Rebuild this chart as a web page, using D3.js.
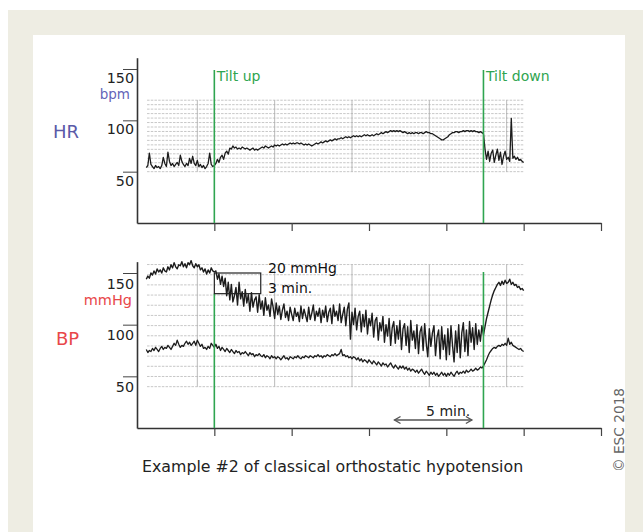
<!DOCTYPE html>
<html><head><meta charset="utf-8">
<script src="https://cdn.jsdelivr.net/npm/d3@7"></script>
<style>
html,body{margin:0;padding:0;background:#fff;}
svg{display:block;font-family:"DejaVu Sans",Verdana,sans-serif;}
</style></head>
<body>
<svg id="c" width="643" height="532"></svg>
<script>
// ---- data ----
const tStart = 0.6, tStep = 0.1; // minutes
const hrValues = [
54,56,68,57,55,53,56,54,55,53,
56,64,58,55,69,60,56,58,55,57,
59,56,66,60,57,55,58,56,63,58,
65,58,56,61,55,57,54,56,53,55,
58,68,57,55,56,
58,62,59,64,66,62,68,70,67,73,
72,75,73,74,72,73,72,74,73,72,
73,72,71,72,73,71,72,71,72,73,
74,73,75,74,73,74,75,74,76,75,
76,75,76,77,76,77,76,77,78,77,
78,77,78,78,77,78,77,76,77,76,
77,76,75,76,77,78,77,78,79,78,
79,80,79,80,81,80,81,82,81,82,
82,83,82,83,84,83,84,83,84,85,
84,85,84,85,84,85,86,85,86,85,
85,86,85,86,87,86,87,88,87,88,
89,88,89,90,89,90,89,90,89,90,
89,88,89,88,87,88,87,88,87,88,
88,87,88,88,87,88,89,88,88,87,
87,86,85,84,83,82,81,81,82,83,
84,86,87,88,88,89,89,88,89,89,
90,89,90,90,89,90,89,90,89,89,
88,89,88,87,
72,62,70,60,68,71,59,66,72,61,
69,57,65,70,62,64,60,102,63,65,
62,64,61,62,60,59
];
const sysValues = [
144,147,145,150,148,152,149,154,151,153,
150,155,152,151,156,153,158,155,160,156,
154,158,157,161,156,159,155,160,158,162,
157,155,159,156,158,153,155,151,154,149,
153,150,155,152,151,
152,144,149,139,147,137,145,128,141,124,
139,122,128,136,119,141,125,132,118,134,
121,129,113,131,117,124,127,112,129,115,
123,109,126,114,119,108,125,117,106,121,
110,118,105,114,120,107,113,104,117,110,
104,116,108,112,103,118,106,115,109,103,
117,105,111,119,104,113,108,116,102,114,
107,118,103,112,116,101,119,108,113,104,
120,102,110,117,99,115,121,86,112,100,
116,95,108,113,93,110,98,114,91,106,
99,111,88,104,107,85,102,94,108,83,
100,89,106,80,97,103,82,99,86,104,
76,96,101,80,98,73,104,85,94,77,
100,72,93,98,75,101,82,69,96,79,
92,99,70,88,95,67,98,76,90,66,
96,71,99,80,64,94,73,100,68,92,
102,74,95,70,103,83,97,76,101,81,
95,84,99,90,
98,106,112,118,124,129,133,136,139,141,
138,142,139,143,140,141,144,139,141,138,
139,136,137,134,135,133
];
const diaValues = [
76,73,75,74,77,75,78,76,74,77,
79,76,78,77,80,78,76,79,82,80,
85,81,78,80,79,82,84,81,83,80,
82,84,80,85,82,79,81,77,78,76,
79,77,82,80,78,
81,77,79,75,78,76,74,77,75,73,
76,74,72,75,73,74,71,73,72,74,
72,70,73,71,72,69,71,70,72,70,
69,71,68,70,69,67,70,68,69,67,
69,68,66,68,70,67,68,66,69,68,
67,69,68,70,68,67,69,68,70,69,
68,70,69,68,70,69,71,69,70,68,
70,69,71,70,69,71,70,72,70,71,
72,76,70,71,69,70,68,69,67,69,
68,66,68,65,67,64,66,65,63,66,
64,62,65,63,61,64,62,60,63,61,
62,59,61,63,60,58,61,59,57,60,
58,60,57,59,56,58,55,57,56,54,
56,53,55,57,54,52,55,53,51,54,
52,54,51,53,50,52,54,51,53,50,
53,51,54,52,50,53,55,52,54,53,
55,53,56,54,55,57,55,56,58,56,
57,59,58,60,
63,66,70,73,75,77,78,77,79,80,
79,81,80,82,80,87,81,83,80,79,
78,77,76,77,75,74
];
const timeTicks = [5, 10, 15, 20, 25, 30];
const gridTimes = [3.9, 8.9, 13.9, 18.9, 23.9];
const hrTicks = [50, 100, 150];
const bpTicks = [50, 100, 150];
const tiltUpTime = 5, tiltDownTime = 22.4;
const scaleBarMin = 3, scaleBarMmHg = 20;
const arrowMinutes = 5;
const caption = "Example #2 of classical orthostatic hypotension";

// ---- drawing ----
const svg = d3.select("#c");
svg.append("rect").attr("x",0).attr("y",0).attr("width",643).attr("height",532).attr("fill","#fff");
svg.append("rect").attr("x",8).attr("y",10).attr("width",635).attr("height",522).attr("fill","#eeede3");
svg.append("rect").attr("x",33).attr("y",35).attr("width",592).attr("height",497).attr("fill","#fff");

const x = d3.scaleLinear().domain([0,30]).range([137,601]);
const yHR = d3.scaleLinear().domain([0,161]).range([223, 223-161*1.0267]);
const yBP = d3.scaleLinear().domain([0,161]).range([428, 428-161*1.0333]);
const tEnd = tStart + tStep*(hrValues.length-1);
const green = "#2fa550";

function panel(y, gridVals, ticks, offsetLabels) {
  const g = svg.append("g");
  const gTop = y(d3.max(gridVals)), gBot = y(d3.min(gridVals));
  g.selectAll("line.hg").data(gridVals).join("line")
    .attr("x1", x(0.65)).attr("x2", x(tEnd)).attr("y1", d=>y(d)).attr("y2", d=>y(d))
    .attr("stroke","#b9b9b9").attr("stroke-width",0.8).attr("stroke-dasharray","2.5,1.2");
  g.selectAll("line.vg").data(gridTimes).join("line")
    .attr("x1", d=>x(d)).attr("x2", d=>x(d)).attr("y1", gTop).attr("y2", gBot)
    .attr("stroke","#a8a8a8").attr("stroke-width",0.8);
  const ax = g.append("g").attr("transform",`translate(0,${y(0)})`)
    .call(d3.axisBottom(x).tickValues(timeTicks).tickSize(8).tickSizeOuter(0).tickFormat(""));
  ax.select(".domain").attr("stroke","#333").attr("stroke-width",1.6);
  ax.selectAll(".tick line").attr("stroke","#444").attr("stroke-width",1.2);
  const ay = g.append("g").attr("transform",`translate(${x(0)},0)`)
    .call(d3.axisLeft(y).tickValues(ticks).tickSize(14).tickSizeOuter(0));
  ay.select(".domain").attr("stroke","#333").attr("stroke-width",1.6);
  ay.selectAll(".tick line").attr("stroke","#444").attr("stroke-width",1);
  ay.selectAll(".tick text").attr("x",-3).attr("dy",0).attr("y",offsetLabels)
    .attr("fill","#222").style("font-size","14.3px").style("font-family","DejaVu Sans, Verdana, sans-serif");
  return g;
}

const hrGrid = d3.range(17).map(i => 50 + i*4.35);
const bpGrid = d3.range(13).map(i => 40 + i*9.85);
panel(yHR, hrGrid, hrTicks, 13.5);
panel(yBP, bpGrid, bpTicks, 15);

const lineHR = d3.line().x((d,i)=>x(tStart+i*tStep)).y(d=>yHR(d));
const lineBP = d3.line().x((d,i)=>x(tStart+i*tStep)).y(d=>yBP(d));
svg.append("path").datum(hrValues).attr("d",lineHR).attr("fill","none")
  .attr("stroke","#1c1c1c").attr("stroke-width",1.3).attr("stroke-linejoin","round");
svg.append("path").datum(sysValues).attr("d",lineBP).attr("fill","none")
  .attr("stroke","#1c1c1c").attr("stroke-width",1.4).attr("stroke-linejoin","round");
svg.append("path").datum(diaValues).attr("d",lineBP).attr("fill","none")
  .attr("stroke","#1c1c1c").attr("stroke-width",1.3).attr("stroke-linejoin","round");

// tilt markers
const topGreen = 70;
[[tiltUpTime,"Tilt up", yBP(130)],[tiltDownTime,"Tilt down", yBP(151)]].forEach(([t,lab,bTop])=>{
  svg.append("line").attr("x1",x(t)).attr("x2",x(t)).attr("y1",topGreen).attr("y2",yHR(0))
    .attr("stroke",green).attr("stroke-width",1.6);
  svg.append("line").attr("x1",x(t)).attr("x2",x(t)).attr("y1",bTop).attr("y2",yBP(0))
    .attr("stroke",green).attr("stroke-width",1.6);
  svg.append("text").attr("x",x(t)+2.5).attr("y",81).text(lab)
    .attr("fill",green).style("font-size","14px");
});

// scale box
svg.append("rect").attr("x",x(tiltUpTime)).attr("y",yBP(150))
  .attr("width",x(tiltUpTime+scaleBarMin)-x(tiltUpTime)).attr("height",yBP(150-scaleBarMmHg)-yBP(150))
  .attr("fill","none").attr("stroke","#222").attr("stroke-width",1.2);
svg.append("text").attr("x",268).attr("y",273).text(scaleBarMmHg+" mmHg").attr("fill","#111").style("font-size","14px");
svg.append("text").attr("x",268).attr("y",293).text(scaleBarMin+" min.").attr("fill","#111").style("font-size","14px");

// 5 min arrow
const ax0 = x(16.65), ax1 = ax0 + (x(arrowMinutes)-x(0));
svg.append("line").attr("x1",ax0).attr("x2",ax1).attr("y1",420).attr("y2",420).attr("stroke","#555").attr("stroke-width",1.4);
svg.append("path").attr("d",`M${ax0+6},416.5 L${ax0},420 L${ax0+6},423.5`).attr("fill","none").attr("stroke","#555").attr("stroke-width",1.4);
svg.append("path").attr("d",`M${ax1-6},416.5 L${ax1},420 L${ax1-6},423.5`).attr("fill","none").attr("stroke","#555").attr("stroke-width",1.4);
svg.append("text").attr("x",(ax0+ax1)/2+15).attr("y",416).attr("text-anchor","middle").text(arrowMinutes+" min.")
  .attr("fill","#222").style("font-size","14px");

// side labels
svg.append("text").attr("x",130).attr("y",98.5).attr("text-anchor","end").text("bpm").attr("fill","#6464b8").style("font-size","13.5px");
svg.append("text").attr("x",53).attr("y",138).text("HR").attr("fill","#5a5aa8").style("font-size","18px");
svg.append("text").attr("x",132).attr("y",305).attr("text-anchor","end").text("mmHg").attr("fill","#e8474a").style("font-size","14.5px");
svg.append("text").attr("x",56).attr("y",345).text("BP").attr("fill","#e8474a").style("font-size","18px");

// caption
svg.append("text").attr("x",142).attr("y",472).text(caption).attr("fill","#222").style("font-size","15.8px");
// copyright
svg.append("text").attr("transform","translate(624,430) rotate(-90)").attr("text-anchor","middle")
  .text("\u00A9 ESC 2018").attr("fill","#666").style("font-size","13.7px");
</script>
</body></html>
